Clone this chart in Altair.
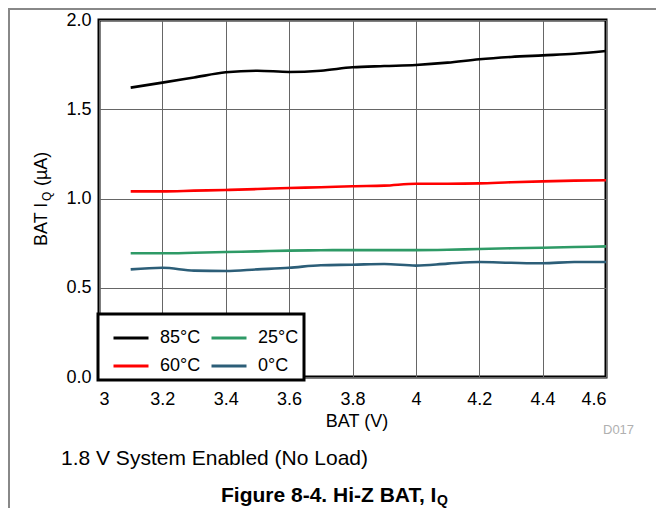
import altair as alt
import pandas as pd

bat_v = [3.1, 3.2, 3.3, 3.4, 3.5, 3.6, 3.7, 3.8, 3.9, 4.0, 4.1, 4.2, 4.3, 4.4, 4.5, 4.6]
iq_85 = [1.621, 1.649, 1.678, 1.707, 1.716, 1.709, 1.716, 1.735, 1.742, 1.748, 1.761, 1.780, 1.793, 1.802, 1.811, 1.826]
iq_60 = [1.040, 1.040, 1.044, 1.048, 1.053, 1.059, 1.063, 1.069, 1.072, 1.083, 1.083, 1.085, 1.091, 1.096, 1.100, 1.102]
iq_25 = [0.693, 0.693, 0.696, 0.700, 0.704, 0.708, 0.710, 0.711, 0.711, 0.711, 0.713, 0.717, 0.721, 0.724, 0.728, 0.732]
iq_0 = [0.603, 0.612, 0.596, 0.594, 0.603, 0.612, 0.626, 0.629, 0.633, 0.624, 0.635, 0.644, 0.640, 0.637, 0.644, 0.644]

series_names = ["85°C", "60°C", "25°C", "0°C"]
series_colors = ["#000000", "#ff0000", "#2e9a66", "#2c5e78"]
x_ticks = [3.0, 3.2, 3.4, 3.6, 3.8, 4.0, 4.2, 4.4, 4.6]
y_ticks = [0.0, 0.5, 1.0, 1.5, 2.0]

rows = []
for name, vals in [("85°C", iq_85), ("60°C", iq_60), ("25°C", iq_25), ("0°C", iq_0)]:
    for v, i in zip(bat_v, vals):
        rows.append({"V": v, "IQ": i, "T": name})
df = pd.DataFrame(rows)

FONT = "Liberation Sans"

lines = alt.Chart(df).mark_line(strokeWidth=2.6, interpolate="monotone").encode(
    x=alt.X("V:Q", scale=alt.Scale(domain=[3.0, 4.6], nice=False),
            axis=alt.Axis(values=x_ticks, format="~g", title=None, labelPadding=13)),
    y=alt.Y("IQ:Q", scale=alt.Scale(domain=[0, 2.0], nice=False),
            axis=alt.Axis(values=y_ticks, format=".1f", title=None, labelPadding=8)),
    color=alt.Color("T:N", scale=alt.Scale(domain=series_names, range=series_colors),
                    legend=alt.Legend(title=None, columns=2, orient="none",
                                      legendX=-1, legendY=294)),
    detail="T:N",
)

def txt(text, x, y, size, **kw):
    return alt.Chart(pd.DataFrame({"t": [text]})).mark_text(
        font=FONT, fontSize=size, **kw
    ).encode(text="t:N", x=alt.value(x), y=alt.value(y))

ytitle = [
    txt("BAT I", -57, 226, 18, angle=270, align="left", baseline="middle", color="black"),
    txt("Q", -52, 181, 12, angle=270, align="left", baseline="middle", color="black"),
    txt("(µA)", -57, 166, 18, angle=270, align="left", baseline="middle", color="black"),
]
xtitle = txt("BAT (V)", 258, 402, 18, align="center", baseline="middle", color="black")
d017 = txt("D017", 504, 410, 13, align="left", baseline="middle", color="#b0b0b0")
note = txt("1.8 V System Enabled (No Load)", -38, 439, 21, align="left", baseline="middle", color="black")
fig1 = txt("Figure 8-4. Hi-Z BAT, I", 122, 476, 21, align="left", baseline="middle",
           color="black", fontWeight="bold")
fig2 = txt("Q", 338, 481, 14, align="left", baseline="middle", color="black", fontWeight="bold")

border_top = alt.Chart(pd.DataFrame({"a": [0]})).mark_rule(color="#888888", strokeWidth=2).encode(
    x=alt.value(-91), x2=alt.value(557), y=alt.value(-11))
border_left = alt.Chart(pd.DataFrame({"a": [0]})).mark_rule(color="#888888", strokeWidth=2).encode(
    x=alt.value(-90), y=alt.value(-12), y2=alt.value(488))

chart = alt.layer(
    lines, *ytitle, xtitle, d017, note, fig1, fig2, border_top, border_left
).properties(
    width=507, height=357,
    autosize=alt.AutoSizeParams(type="none"),
    padding={"left": 91, "top": 12, "right": 50, "bottom": 131},
).configure_view(
    stroke="black", strokeWidth=3
).configure_axis(
    domain=False, ticks=False, grid=True, gridColor="#666666", gridWidth=1,
    labelFont=FONT, labelFontSize=18, labelColor="black",
).configure_legend(
    strokeColor="black", strokeWidth=3, fillColor="white", padding=5,
    symbolType="stroke", symbolSize=1225, symbolStrokeWidth=3, symbolOffset=9,
    labelFont=FONT, labelFontSize=18, labelColor="black", labelOffset=10,
    columnPadding=-7, rowPadding=-9,
)

chart.save("out.html", embed_options={"renderer": "svg", "actions": False})
